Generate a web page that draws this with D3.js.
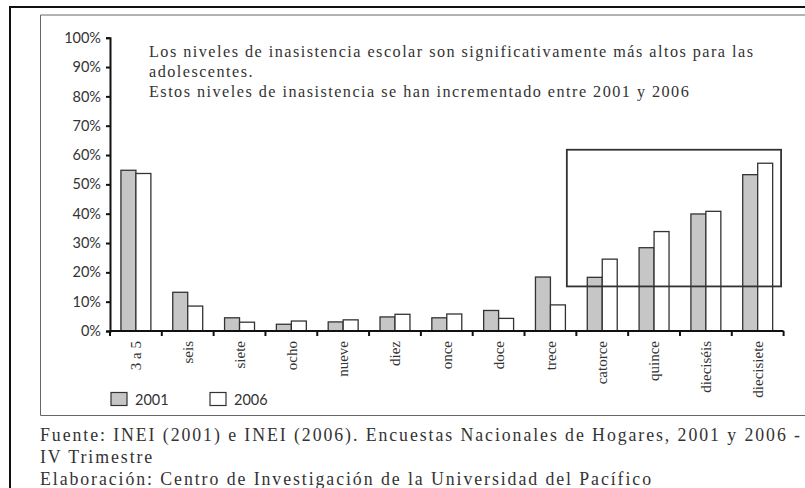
<!DOCTYPE html>
<html>
<head>
<meta charset="utf-8">
<script src="https://cdn.jsdelivr.net/npm/d3@7"></script>
<style>
  body { margin: 0; background: #fff; }
  svg { display: block; }
</style>
</head>
<body>
<svg id="chart" width="805" height="488"></svg>
<script>
// age groups (edades) and the two survey years
var categories = ["3 a 5", "seis", "siete", "ocho", "nueve", "diez", "once", "doce",
                  "trece", "catorce", "quince", "dieciséis", "diecisiete"];
var years = ["2001", "2006"];
var values2001 = [0.548, 0.132, 0.045, 0.023, 0.031, 0.048, 0.045, 0.070, 0.184, 0.183, 0.284, 0.399, 0.533];
var values2006 = [0.537, 0.085, 0.030, 0.034, 0.038, 0.057, 0.058, 0.043, 0.089, 0.245, 0.339, 0.408, 0.572];
var yTicks = [0, 0.1, 0.2, 0.3, 0.4, 0.5, 0.6, 0.7, 0.8, 0.9, 1.0];
var noteLines = [
  "Los niveles de inasistencia escolar son significativamente más altos para las",
  "adolescentes.",
  "Estos niveles de inasistencia se han incrementado entre 2001 y 2006"
];
var sourceLines = [
  "Fuente: INEI (2001) e INEI (2006). Encuestas Nacionales de Hogares, 2001 y 2006 -",
  "IV Trimestre",
  "Elaboración: Centro de Investigación de la Universidad del Pacífico"
];
var highlightFrom = "catorce";   // box around the teenage groups
var highlightRange = [0.152, 0.618];

var serif = "'Liberation Serif', 'Times New Roman', serif";
var sans = "Lato, 'Open Sans', sans-serif";

var svg = d3.select("#chart");

// frames
svg.append("path").attr("d", "M10,488V7H805")
    .attr("fill", "none").attr("stroke", "#111").attr("stroke-width", 2);
svg.append("path").attr("d", "M805,15H40.5V415.5H805")
    .attr("fill", "none").attr("stroke", "#666").attr("stroke-width", 1);

var x = d3.scaleBand().domain(categories).range([110, 783.6]).padding(0);
var xs = d3.scaleBand().domain(years).range([0, x.bandwidth()]).paddingInner(0).paddingOuter(0.73);
var y = d3.scaleLinear().domain([0, 1]).range([331, 37.7]);

var rows = categories.map(function(c, i) {
  return { cat: c, vals: [{ year: "2001", v: values2001[i] }, { year: "2006", v: values2006[i] }] };
});
var fills = { "2001": "#c6c6c6", "2006": "#ffffff" };

var groups = svg.append("g").selectAll("g").data(rows).enter().append("g")
    .attr("transform", function(d) { return "translate(" + x(d.cat) + ",0)"; });
groups.selectAll("rect").data(function(d) { return d.vals; }).enter().append("rect")
    .attr("x", function(d) { return xs(d.year); })
    .attr("y", function(d) { return y(d.v); })
    .attr("width", xs.bandwidth())
    .attr("height", function(d) { return y(0) - y(d.v); })
    .attr("fill", function(d) { return fills[d.year]; })
    .attr("stroke", "#333").attr("stroke-width", 1.3);

// y axis
var yAxis = svg.append("g").attr("transform", "translate(110,0)")
    .call(d3.axisLeft(y).tickValues(yTicks).tickFormat(d3.format(".0%")).tickSize(4).tickPadding(5));
yAxis.select(".domain").attr("stroke", "#111").attr("stroke-width", 2);
yAxis.selectAll(".tick line").attr("stroke", "#111").attr("stroke-width", 2);
yAxis.selectAll("text").attr("font-family", sans).attr("font-size", 14.5).attr("fill", "#333");

// x axis: ticks at category boundaries
var xAxis = svg.append("g").attr("transform", "translate(0," + y(0) + ")");
xAxis.append("line").attr("x1", x.range()[0]).attr("x2", x.range()[1])
    .attr("stroke", "#111").attr("stroke-width", 2);
xAxis.selectAll(".bound").data(categories.concat([null])).enter().append("line")
    .attr("x1", function(d) { return d ? x(d) : x.range()[1]; })
    .attr("x2", function(d) { return d ? x(d) : x.range()[1]; })
    .attr("y1", 0).attr("y2", 5)
    .attr("stroke", "#111").attr("stroke-width", 2);
xAxis.selectAll(".lbl").data(categories).enter().append("text")
    .attr("transform", function(d) { return "translate(" + (x(d) + x.bandwidth() / 2) + ",10) rotate(-90)"; })
    .attr("text-anchor", "end").attr("dy", "0.35em")
    .attr("font-family", serif).attr("font-size", 15).attr("fill", "#333")
    .text(function(d) { return d; });

// highlight box
svg.append("rect")
    .attr("x", x(highlightFrom) - 9.5)
    .attr("y", y(highlightRange[1]))
    .attr("width", x.range()[1] - 2.5 - (x(highlightFrom) - 9.5))
    .attr("height", y(highlightRange[0]) - y(highlightRange[1]))
    .attr("fill", "none").attr("stroke", "#333").attr("stroke-width", 1.8);

// spread letters evenly so the first line fills the given width (book has loose tracking)
function track(sel, firstWidth) {
  var nodes = sel.nodes();
  var first = nodes[0], n = first.textContent.length;
  var ls = (firstWidth - first.getComputedTextLength()) / (n - 1);
  sel.attr("letter-spacing", ls);
}

// note text
var notes = svg.append("g").selectAll("text").data(noteLines).enter().append("text")
    .attr("x", 149).attr("y", function(d, i) { return 57 + i * 20; })
    .attr("font-family", serif).attr("font-size", 16.2).attr("fill", "#333")
    .text(function(d) { return d; });
track(notes, 604);

// legend
var legend = svg.append("g").selectAll("g").data(years).enter().append("g")
    .attr("transform", function(d, i) { return "translate(" + (111 + i * 99) + ",392.5)"; });
legend.append("rect").attr("width", 16).attr("height", 13)
    .attr("fill", function(d) { return fills[d]; })
    .attr("stroke", "#333").attr("stroke-width", 1.2);
legend.append("text").attr("x", 24).attr("y", 12)
    .attr("font-family", sans).attr("font-size", 14.5).attr("fill", "#333")
    .text(function(d) { return d; });

// source text
var source = svg.append("g").selectAll("text").data(sourceLines).enter().append("text")
    .attr("x", 40).attr("y", function(d, i) { return 441 + i * 22; })
    .attr("font-family", serif).attr("font-size", 17.8).attr("fill", "#333")
    .text(function(d) { return d; });
track(source, 760);
</script>
</body>
</html>
